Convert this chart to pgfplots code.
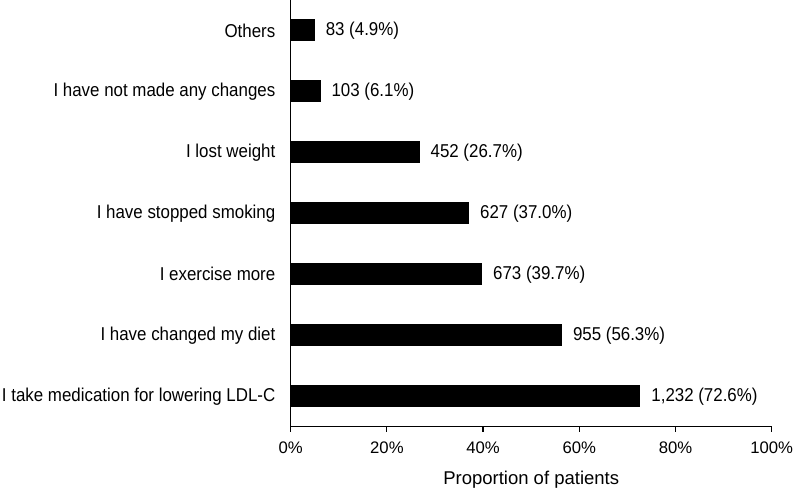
\documentclass[border=0pt]{standalone}
\usepackage{fontspec}
\setmainfont{Liberation Sans}
\usepackage{pgfplots}
\usepackage{pgfplotstable}
\pgfplotsset{compat=1.18}
\pgfplotstableread[col sep=semicolon]{
x;y;lab
4.9;0;83 (4.9\%)
6.1;1;103 (6.1\%)
26.7;2;452 (26.7\%)
37.0;3;627 (37.0\%)
39.7;4;673 (39.7\%)
56.3;5;955 (56.3\%)
72.6;6;1,232 (72.6\%)
}\datatable
\begin{document}
\begin{tikzpicture}
\useasboundingbox (-290.7bp,-61.3bp) rectangle (506.3bp,426.7bp);
\begin{axis}[
  at={(0,0)}, anchor=south west,
  scale only axis,
  width=481bp, height=426.7bp,
  xbar, bar width=21bp,
  xmin=0, xmax=100,
  ymin=-0.5, ymax=6.5,
  y dir=reverse,
  axis x line*=bottom, axis y line*=left,
  axis line style={line width=1.2bp, black, -},
  xtick={0,20,40,60,80,100},
  xticklabels={0\%,20\%,40\%,60\%,80\%,100\%},
  xtick align=outside,
  x tick style={line width=1.2bp, black},
  major tick length=5bp,
  ytick={0,...,6},
  yticklabels={Others,I have not made any changes,I lost weight,I have stopped smoking,I exercise more,I have changed my diet,I take medication for lowering LDL-C},
  y tick style={draw=none},
  xticklabel style={font=\fontsize{16.7bp}{20bp}\selectfont, anchor=base, inner sep=0pt, yshift=-21.8bp},
  yticklabel style={font=\fontsize{16.9bp}{20bp}\selectfont, yscale=1.1, inner sep=0pt, anchor=east, xshift=-10.2bp},
  xlabel={Proportion of patients},
  xlabel style={font=\fontsize{18.5bp}{22bp}\selectfont, at={(axis description cs:0.5,0)}, anchor=base, inner sep=0pt, yshift=-57.3bp},
]
\addplot[fill=black, draw=black, line width=0pt,
  nodes near coords, point meta=explicit symbolic,
  nodes near coords style={anchor=west, inner sep=0pt, xshift=11.5bp, yscale=1.1, font=\fontsize{16.9bp}{20bp}\selectfont, text=black}]
  table[x=x, y=y, meta=lab] {\datatable};
\end{axis}
\end{tikzpicture}
\end{document}
